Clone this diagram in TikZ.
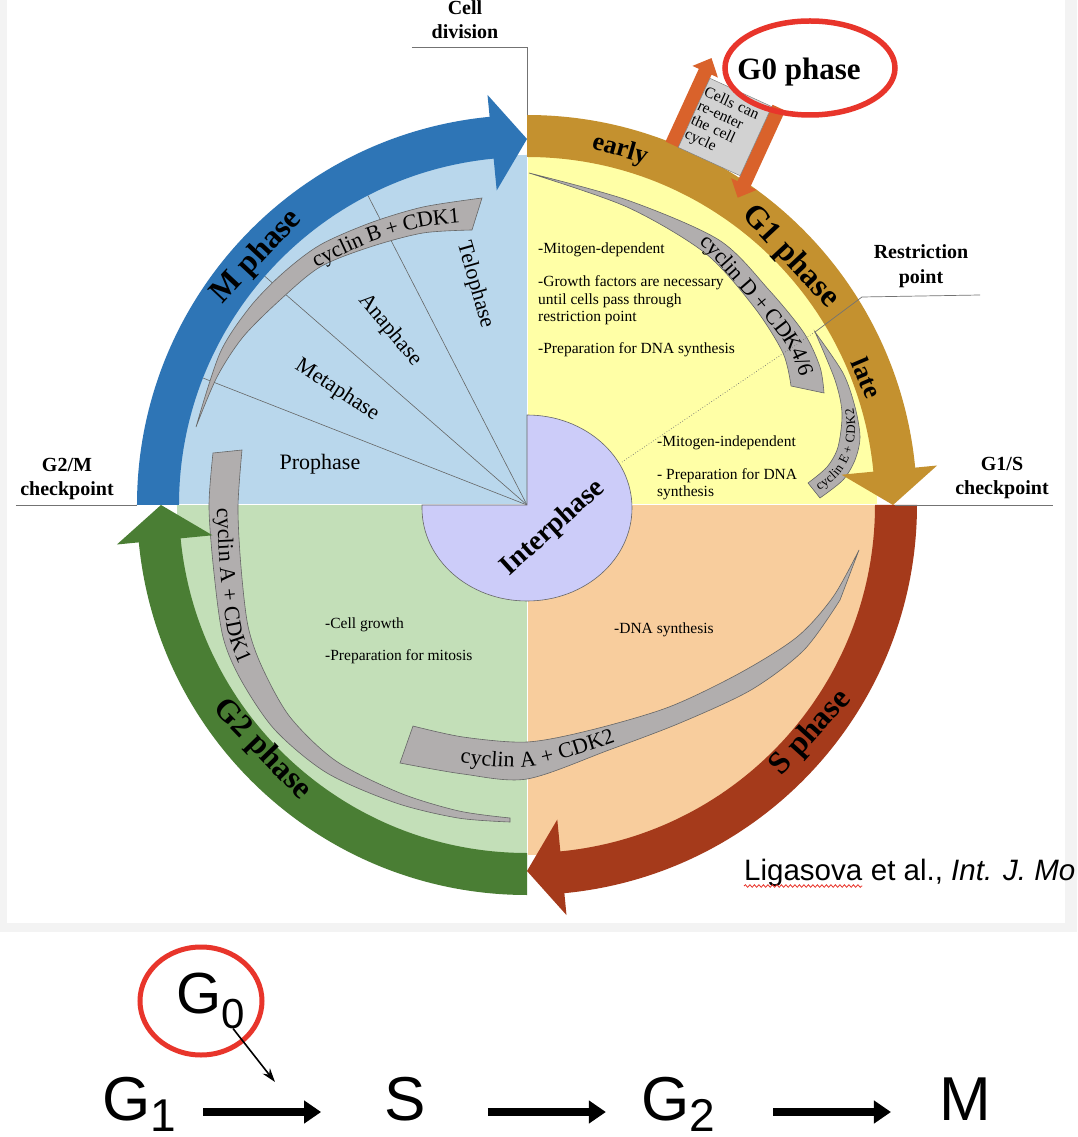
\documentclass[tikz,border=0pt]{standalone}
\usepackage{fontspec}
\setmainfont{Liberation Serif}
\newfontfamily\arialfont{Liberation Sans}
\usetikzlibrary{arrows.meta,shapes.geometric,decorations.text,decorations.pathmorphing}

\newcommand{\fsz}[1]{\fontsize{#1}{#1}\selectfont}
\newcommand{\cyclfont}{\fsz{22}}
\newcommand{\cyclsmall}{\fsz{13}}

\definecolor{pagegray}{HTML}{F3F3F3}
\definecolor{mblue}{HTML}{2E75B6}
\definecolor{gold}{HTML}{C4912F}
\definecolor{sred}{HTML}{A53A1B}
\definecolor{ggreen}{HTML}{4A7E34}
\definecolor{qblue}{HTML}{B9D7EC}
\definecolor{qyellow}{HTML}{FFFFA6}
\definecolor{qpeach}{HTML}{F8CD9D}
\definecolor{qgreen}{HTML}{C3DFB8}
\definecolor{lavender}{HTML}{CCCCF9}
\definecolor{cyclgray}{HTML}{B1AEAE}
\definecolor{boxgray}{HTML}{D2D2D2}
\definecolor{g0orange}{HTML}{D9622B}
\definecolor{ringred}{HTML}{E8352B}

\tikzset{
  leader/.style={draw=black!55, line width=0.7pt},
  stageline/.style={draw=black!60, line width=0.6pt},
  cyclin/.style={fill=cyclgray, draw=black!60, line width=0.6pt},
  cycltext/.style 2 args={decorate, decoration={text along path, text={#1}, raise=#2}},
  phasename/.style={font=\bfseries\fsz{32}, inner sep=0pt},
  g1part/.style={font=\bfseries\fsz{26}, inner sep=0pt},
  stagename/.style={font=\fsz{22}, inner sep=0pt},
  note/.style={font=\fontsize{15.5}{17.5}\selectfont, align=left, anchor=west, inner sep=0pt},
  checkname/.style={font=\bfseries\fontsize{20}{24}\selectfont, align=center, inner sep=0pt},
  redring/.style={draw=ringred, line width=5.5pt},
  reenterbox/.style={fill=boxgray, draw=black!50, line width=0.5pt, minimum width=68pt, minimum height=76pt, text width=66pt, align=left, inner sep=1pt, font=\fontsize{15.5}{15.5}\selectfont},
  citefont/.style={font=\arialfont\fsz{29.5}, inner sep=0pt},
  bigletter/.style={font=\arialfont\fsz{62}, inner sep=0pt, anchor=base, text height=33pt, text depth=17pt},
  g0letter/.style={font=\arialfont\fsz{58}, inner sep=0pt, anchor=base},
  bigarrow/.style={line width=8pt, -{Triangle[length=17pt,width=22pt]}},
  thinarrow/.style={line width=1.6pt, -{Stealth[length=14pt,width=9pt]}},
}

\begin{document}
\begin{tikzpicture}[x=1pt, y=1pt]
\useasboundingbox (-527,-632) rectangle (550,505);
\fill[pagegray] (-527,-632) rectangle (550,505);
\fill[white] (-520,-418) rectangle (538,505);
\fill[white] (-527,-427) rectangle (550,-632);

% quadrants
\fill[qyellow] (0,0) -- (90:350) arc[start angle=90, end angle=0, radius=350] -- cycle;
\fill[qpeach] (0,0) -- (0:350) arc[start angle=0, end angle=-90, radius=350] -- cycle;
\fill[qgreen] (0,0) -- (270:350) arc[start angle=270, end angle=180, radius=350] -- cycle;
\fill[qblue] (0,0) -- (180:350) arc[start angle=180, end angle=90, radius=350] -- cycle;
\draw[white, line width=1pt] (-350,0) -- (350,0) (0,-350) -- (0,350);

\foreach \t in {158.6, 138.9, 117.2}
  \draw[stageline] (0,0) -- (\t:348);

\filldraw[fill=lavender, draw=black!60, line width=0.6pt] (0,0) -- (0,90)
  arc[start angle=90, end angle=-180, x radius=105, y radius=93] -- (-105,0) -- cycle;

% cyclin bands
\filldraw[cyclin] plot[smooth] coordinates {(-331,78) (-307,152) (-277,198) (-244,232) (-207,260) (-157,282) (-104,298) (-45,307)}
  -- plot[smooth] coordinates {(-55,275) (-104,272) (-157,258) (-207,238) (-247,205) (-284,168) (-310,128) (-331,78)} -- cycle;
\path[cycltext={|\cyclfont|cyclin B + CDK1}{-7pt}] plot[smooth] coordinates {(-214,244) (-157,270) (-104,285) (-48,291) (-25,293)};

\filldraw[cyclin] plot[smooth] coordinates {(2,332) (100,305) (192,265) (242,215) (277,172) (293,138) (297,112)}
  -- plot[smooth] coordinates {(264,119) (256,152) (227,198) (178,252) (100,298) (2,332)} -- cycle;
\path[cycltext={|\cyclfont|cyclin D + CDK4/6}{-7pt}] plot[smooth] coordinates {(176,266) (186,258) (232,206) (265,164) (279,132) (282,100)};

\filldraw[cyclin] plot[smooth] coordinates {(288,173) (316,132) (328,98) (333,68) (328,45) (316,25) (293,7)}
  -- plot[smooth] coordinates {(281,22) (300,38) (311,58) (315,92) (308,125) (288,173)} -- cycle;
\path[cycltext={|\cyclsmall|cyclin E + CDK2}{-4.3pt}] plot[smooth] coordinates {(290,18) (308,32) (320,53) (324,80) (319,110) (305,145)};

\filldraw[cyclin] plot[smooth] coordinates {(-114,-221) (-64,-232) (0,-237) (64,-225) (142,-202) (213,-168) (270,-132) (306,-92) (332,-45)}
  -- plot[smooth] coordinates {(313,-95) (277,-145) (224,-185) (153,-218) (82,-245) (0,-274) (-64,-269) (-127,-258)} -- cycle;
\path[cycltext={|\cyclfont|cyclin A + CDK2}{-7pt}] plot[smooth] coordinates {(-66,-251) (0,-255) (64,-238) (110,-222) (142,-210) (180,-190)};

\filldraw[cyclin] plot[smooth] coordinates {(-314,52) (-318,-2) (-313,-68) (-304,-132) (-286,-175) (-252,-225) (-200,-268) (-131,-298) (-69,-313) (-17,-317)}
  -- plot[smooth] coordinates {(-17,-313) (-68,-306) (-127,-288) (-191,-256) (-237,-212) (-265,-162) (-279,-121) (-286,-62) (-289,-2) (-285,55)} -- cycle;
\path[cycltext={|\cyclfont|cyclin A + CDK1}{-7pt}] plot[smooth] coordinates {(-303,-3) (-300,-65) (-292,-127) (-276,-168) (-250,-212)};

% phase arrows
\foreach \a/\col in {180/mblue, 90/gold, 0/sred, 270/ggreen}
  \fill[\col] (\a:390) arc[start angle=\a, end angle=\a-84.5, radius=390]
    -- ({\a-84.5}:412) -- ({\a-90}:366) -- ({\a-84.5}:316) -- ({\a-84.5}:348)
    arc[start angle=\a-84.5, end angle=\a, radius=348] -- cycle;

% G0 exit
\begin{scope}[shift={(198,378)}, rotate=-24.6]
  \fill[g0orange] (-48,-38) -- (-48,42) -- (-55,42) -- (-41,57) -- (-27,42) -- (-34,42) -- (-34,-38) -- cycle;
  \fill[g0orange] (34,40) -- (34,-44) -- (27,-44) -- (41,-59) -- (55,-44) -- (48,-44) -- (48,40) -- cycle;
  \node[reenterbox, transform shape] (reenter) at (0,0) {Cells can\\re-enter\\the cell\\cycle};
\end{scope}
\node[font=\bfseries\fsz{31}, inner sep=0pt] (g0ph) at (272,433) {G0 phase};
\draw[redring] (283,437) ellipse [x radius=85, y radius=47];

% leaders
\coordinate (cd1) at (-115,458);
\coordinate (cd2) at (0,458);
\coordinate (cd3) at (0,390);
\draw[leader] (cd1) -- (cd2) -- (cd3);
\coordinate (rp1) at (453,210);
\coordinate (rp2) at (335,208);
\coordinate (rp3) at (288,173);
\coordinate (rp4) at (95,43);
\draw[leader] (rp1) -- (rp2) -- (rp3);
\draw[leader, dotted] (rp3) -- (rp4);
\coordinate (gm1) at (-511,0);
\coordinate (gm2) at (-390,0);
\coordinate (gs1) at (368,0);
\coordinate (gs2) at (526,0);
\draw[leader] (gm1) -- (gm2);
\draw[leader] (gs1) -- (gs2);

% labels
\node[checkname] (celldiv) at (-62,485) {Cell\\division};
\node[checkname] (g2m) at (-460,25.5) {G2/M\\checkpoint};
\node[checkname] (g1s) at (475,26.5) {G1/S\\checkpoint};
\node[checkname, font=\bfseries\fontsize{20}{25}\selectfont] (restr) at (394,238.5) {Restriction\\point};

\node[phasename, rotate=47] (mph) at (-270,248) {M phase};
\node[phasename, rotate=-47] (g1ph) at (263,248) {G1 phase};
\node[phasename, rotate=48] (sph) at (284,-228) {S phase};
\node[phasename, rotate=-46] (g2ph) at (-265,-245) {G2 phase};
\node[g1part, rotate=-16] (early) at (93,355) {early};
\node[g1part, rotate=-67] (late) at (340,127) {late};

\node[stagename] (pro) at (-207,41) {Prophase};
\node[stagename, rotate=-33] (meta) at (-190,115) {Metaphase};
\node[stagename, rotate=-50] (ana) at (-137,175) {Anaphase};
\node[stagename, rotate=-74] (telo) at (-52,220) {Telophase};
\node[font=\bfseries\fsz{28}, inner sep=0pt, rotate=42] (inter) at (26,-23) {Interphase};

\node[note] (mitdep) at (11,255) {-Mitogen-dependent};
\node[note] (growth) at (11,204.5) {-Growth factors are necessary\\until cells pass through\\restriction point};
\node[note] (prepdna) at (11,155) {-Preparation for DNA synthesis};
\node[note] (mitind) at (130,62) {-Mitogen-independent};
\node[note] (prepdnb) at (130,21) {- Preparation for DNA\\synthesis};
\node[note] (cellgr) at (-202,-120) {-Cell growth};
\node[note] (prepmit) at (-202,-152) {-Preparation for mitosis};
\node[note] (dnasyn) at (87,-125) {-DNA synthesis};

% citation
\node[citefont, anchor=base west] (ligasova) at (217,-375) {Ligasova};
\node[citefont, anchor=base west] (etal) at (ligasova.base east) {\ et al., \textit{Int. J. Mo}};
\draw[ringred, line width=0.8pt, decorate, decoration={snake, amplitude=1.3pt, segment length=4.5pt}]
  ([yshift=-6pt]ligasova.base west) -- ([yshift=-6pt]ligasova.base east);

% simple scheme
\node[bigletter] (g1) at (-388,-615) {G\raisebox{-11pt}{\fsz{46}1}};
\node[bigletter] (s) at (-122,-615) {S};
\node[bigletter] (g2) at (151,-615) {G\raisebox{-11pt}{\fsz{46}2}};
\node[bigletter] (m) at (438,-615) {M};
\draw[bigarrow, shorten <=27pt, shorten >=63pt] (g1) -- (s);
\draw[bigarrow, shorten <=62pt, shorten >=35pt] (s) -- (g2);
\draw[bigarrow, shorten <=58pt, shorten >=48pt] (g2) -- (m);

\node[g0letter] (g0) at (-316,-508) {G\raisebox{-15pt}{\fsz{42}0}};
\draw[redring, line width=5pt] (-326,-496) ellipse [x radius=61, y radius=54];
\coordinate (g0end) at (-252,-577);
\draw[thinarrow] (g0) -- (g0end);
\end{tikzpicture}
\end{document}
